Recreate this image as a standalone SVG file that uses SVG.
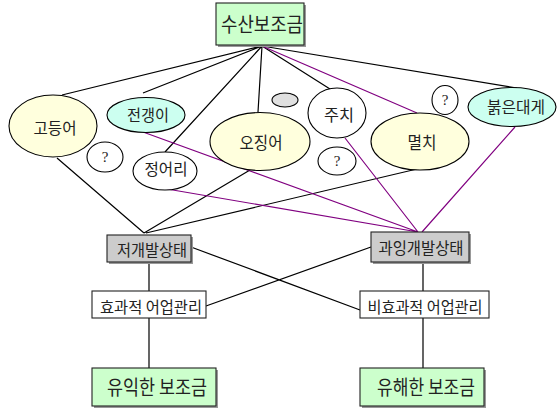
<svg xmlns="http://www.w3.org/2000/svg" width="559" height="408" viewBox="0 0 559 408">
<style>
.ln{stroke:#000;stroke-width:1.2;fill:none}
.pu{stroke:#800080;stroke-width:1.2;fill:none}
.el{stroke:#000;stroke-width:1.1}
.bx{stroke:#222;stroke-width:1.1}
.sh{fill:#999}
.t{font-family:"Noto Sans CJK KR","Noto Sans",sans-serif;fill:#222;text-anchor:middle}
.q{font-family:"Liberation Serif",serif;fill:#222;text-anchor:middle;font-size:15px}
.yl{fill:#ffffdd}
.cy{fill:#ccfff0}
.wh{fill:#fff}
.gn{fill:#ccffcc}
.gy{fill:#cccccc}
</style>
<rect width="559" height="408" fill="#fff"/>
<g id="connectors">
<path class="ln" d="M262,46 L62,95 M262,46 L143,93 M262,46 L165,152 M262,46 L258,112 M262,46 L330,89 M262,46 L517,88"/>
<path class="pu" d="M262,46 L417,113"/>
<path class="ln" d="M57,158 L144,233 M250,170 L144,233 M417,169 L146,233"/>
<path class="pu" d="M143,132 L418,232 M167,189 L418,232 M345,138 L418,232 M515,127 L422,232"/>
<path class="ln" d="M191,247 L360,310 M206,306 L371,247"/>
<path class="ln" d="M149,262 L149,291 M149,318 L149,368 M423,262 L423,291 M423,318 L423,368"/>
</g>
<g id="n-susan">
<rect class="sh" x="218" y="5" width="88" height="42"/>
<rect class="bx gn" x="216" y="3" width="88" height="42"/>
<text class="t" x="262" y="32" font-size="20" textLength="82" lengthAdjust="spacingAndGlyphs">수산보조금</text>
</g>
<g id="n-godeungeo">
<ellipse class="el yl" cx="53" cy="126" rx="44" ry="31"/>
<text class="t" x="55" y="134" font-size="16" textLength="43" lengthAdjust="spacingAndGlyphs">고등어</text>
</g>
<g id="n-jeongaengi">
<ellipse class="el cy" cx="146" cy="115" rx="39" ry="17.5"/>
<text class="t" x="148" y="121" font-size="16" textLength="42" lengthAdjust="spacingAndGlyphs">전갱이</text>
</g>
<g id="n-q1">
<ellipse class="el wh" cx="105" cy="157" rx="18" ry="15"/>
<text class="q" x="105" y="162">?</text>
</g>
<g id="n-jeongeori">
<ellipse class="el wh" cx="165" cy="171" rx="32" ry="19"/>
<text class="t" x="166" y="175" font-size="16" textLength="43" lengthAdjust="spacingAndGlyphs">정어리</text>
</g>
<g id="n-ojingeo">
<ellipse class="el yl" cx="260" cy="141.5" rx="50" ry="29"/>
<text class="t" x="261" y="149" font-size="17" textLength="43" lengthAdjust="spacingAndGlyphs">오징어</text>
</g>
<g id="n-gray">
<ellipse class="el" fill="#e0e0e0" cx="285" cy="100" rx="13" ry="7"/>
</g>
<g id="n-juchi">
<ellipse class="el wh" cx="337" cy="113" rx="29" ry="25"/>
<text class="t" x="339" y="121" font-size="16" textLength="30" lengthAdjust="spacingAndGlyphs">주치</text>
</g>
<g id="n-q2">
<ellipse class="el wh" cx="337" cy="161" rx="19" ry="14"/>
<text class="q" x="337" y="166">?</text>
</g>
<g id="n-myeolchi">
<ellipse class="el yl" cx="420" cy="141.5" rx="49" ry="28.5"/>
<text class="t" x="422" y="149" font-size="17" textLength="29" lengthAdjust="spacingAndGlyphs">멸치</text>
</g>
<g id="n-q3">
<ellipse class="el wh" cx="445" cy="100" rx="13" ry="14.5"/>
<text class="q" x="445" y="105">?</text>
</g>
<g id="n-daege">
<ellipse class="el cy" cx="512" cy="107" rx="44" ry="19.5"/>
<text class="t" x="516" y="113" font-size="16" textLength="58" lengthAdjust="spacingAndGlyphs">붉은대게</text>
</g>
<g id="n-jeogaebal">
<rect class="sh" x="109" y="237" width="84" height="27"/>
<rect class="bx gy" x="107" y="235" width="84" height="27"/>
<text class="t" x="152" y="256" font-size="16" textLength="70" lengthAdjust="spacingAndGlyphs">저개발상태</text>
</g>
<g id="n-gwaing">
<rect class="sh" x="373" y="234" width="98" height="30"/>
<rect class="bx gy" x="371" y="232" width="98" height="30"/>
<text class="t" x="421" y="254" font-size="16" textLength="85" lengthAdjust="spacingAndGlyphs">과잉개발상태</text>
</g>
<g id="n-hyogwa">
<rect class="bx wh" x="92" y="291" width="114" height="27"/>
<text class="t" x="151" y="313" font-size="16" textLength="102" lengthAdjust="spacingAndGlyphs">효과적 어업관리</text>
</g>
<g id="n-bihyogwa">
<rect class="bx wh" x="360" y="291" width="129" height="27"/>
<text class="t" x="425" y="313" font-size="16" textLength="115" lengthAdjust="spacingAndGlyphs">비효과적 어업관리</text>
</g>
<g id="n-yuik">
<rect class="sh" x="94" y="370" width="124" height="38"/>
<rect class="bx gn" x="92" y="368" width="124" height="38"/>
<text class="t" x="157" y="395" font-size="20" textLength="100" lengthAdjust="spacingAndGlyphs">유익한 보조금</text>
</g>
<g id="n-yuhae">
<rect class="sh" x="362" y="370" width="124" height="38"/>
<rect class="bx gn" x="360" y="368" width="124" height="38"/>
<text class="t" x="426" y="395" font-size="20" textLength="98" lengthAdjust="spacingAndGlyphs">유해한 보조금</text>
</g>
</svg>
